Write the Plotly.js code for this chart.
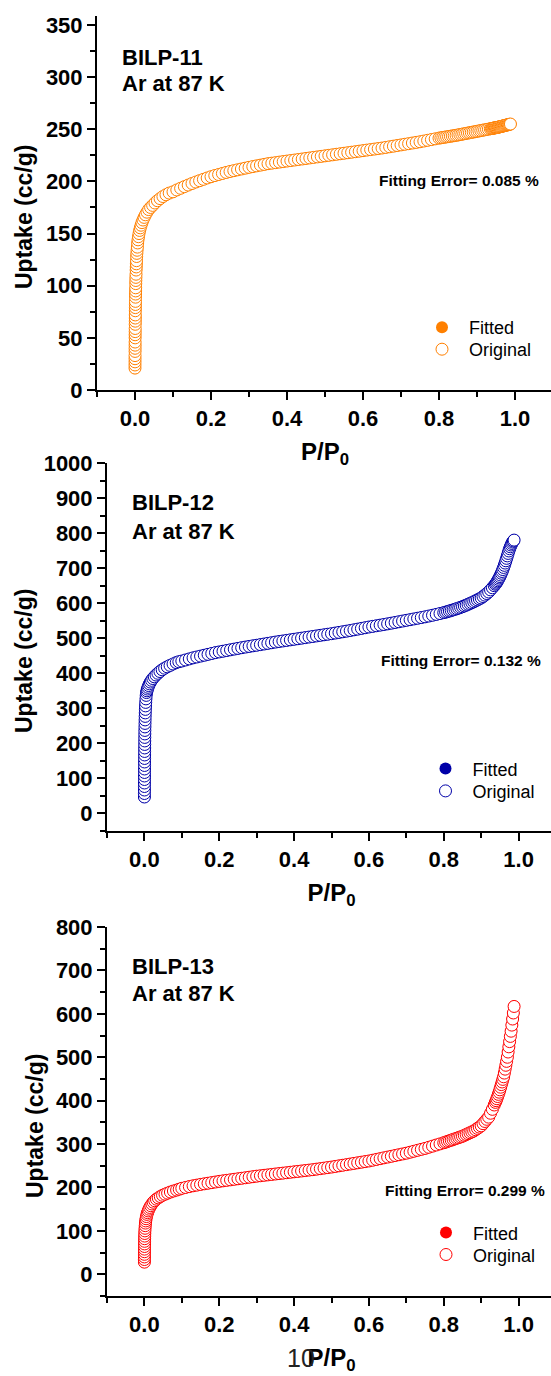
<!DOCTYPE html>
<html><head><meta charset="utf-8">
<script src="https://cdn.plot.ly/plotly-3.0.1.min.js"></script>
<style>html,body{margin:0;padding:0;overflow:hidden;background:#fff}#chart{width:560px;height:1376px}</style>
</head><body><div id="chart"></div>
<script>
// ---------- DATA ----------
const panelNames = ['BILP-11', 'BILP-12', 'BILP-13'];
const gasLabel = 'Ar at 87 K';
const fitErrors = ['0.085', '0.132', '0.299'];
const seriesNames = ['Fitted', 'Original'];
const colors = ['#FF8000', '#0000A8', '#FF0000'];

// low-pressure part (vertical rise + knee), per panel
const p1Low = [0.0000,0.0000,0.0001,0.0001,0.0001,0.0002,0.0002,0.0003,0.0003,0.0004,
  0.0004,0.0005,0.0005,0.0006,0.0007,0.0008,0.0008,0.0009,0.0010,0.0011,
  0.0012,0.0014,0.0015,0.0017,0.0018,0.0020,0.0022,0.0024,0.0027,0.0030,
  0.0033,0.0036,0.0040,0.0044,0.0049,0.0055,0.0062,0.0070,0.0080,0.0092,
  0.0106,0.0122,0.0140,0.0160,0.0183,0.0210,0.0240,0.0275,0.0315,0.0360,
  0.0410,0.0465,0.0525,0.0590,0.0660,0.0735,0.0815,0.0900];
const u1Low = [21,24,27,30,33,37,40,43,46,50,
  53,56,59,63,66,69,72,76,79,82,
  85,89,92,95,98,102,105,108,111,115,
  118,121,124,128,131,134,137,141,144,147,
  150,153,155.5,158,160.5,163,165.5,168,170.5,173,
  175,177,179.3,181.5,183.5,185.5,187.2,188.8];

const p2Low = [0.0000,0.0000,0.0001,0.0001,0.0001,0.0002,0.0002,0.0003,0.0003,0.0004,
  0.0004,0.0005,0.0006,0.0006,0.0007,0.0008,0.0009,0.0010,0.0011,0.0012,
  0.0014,0.0016,0.0018,0.0020,0.0023,0.0026,0.0030,0.0035,0.0041,0.0048,
  0.0057,0.0068,0.0081,0.0096,0.0114,0.0135,0.0160,0.0190,0.0225,0.0265,
  0.0310,0.0360,0.0415,0.0475,0.0540,0.0610,0.0685,0.0765,0.0850,0.0920];
const u2Low = [47,57,67,77,87,97,107,117,127,137,
  147,157,167,177,187,197,207,217,227,237,
  247,257,267,277,287,297,307,317,327,337,
  345,350,355,360,365,370,375,380,385,390,
  395,400,405,410,414.5,418.5,422.5,426.5,430.5,433];

const p3Low = [0.0000,0.0000,0.0001,0.0001,0.0002,0.0002,0.0003,0.0004,0.0005,0.0006,
  0.0008,0.0010,0.0013,0.0017,0.0022,0.0028,0.0035,0.0044,0.0055,0.0068,
  0.0083,0.0100,0.0120,0.0143,0.0170,0.0200,0.0235,0.0275,0.0320,0.0370,
  0.0425,0.0485,0.0550,0.0620,0.0695,0.0775,0.0860,0.0930];
const u3Low = [28,34,40,46,52,58,64,70,76,82,
  88,94,100,106,112,118,123,128,133,138,
  142,146,150,154,158,162,166,169.5,173,176,
  179,182,184.5,187,189.5,191.8,194,196];

// shared relative-pressure grid for the plateau part
const pHi = [0.10,0.11,0.12,0.13,0.14,0.15,0.16,0.17,0.18,0.19,
  0.20,0.21,0.22,0.23,0.24,0.25,0.26,0.27,0.28,0.29,
  0.30,0.31,0.32,0.33,0.34,0.35,0.36,0.37,0.38,0.39,
  0.40,0.41,0.42,0.43,0.44,0.45,0.46,0.47,0.48,0.49,
  0.50,0.51,0.52,0.53,0.54,0.55,0.56,0.57,0.58,0.59,
  0.60,0.61,0.62,0.63,0.64,0.65,0.66,0.67,0.68,0.69,
  0.70,0.71,0.72,0.73,0.74,0.75,0.76,0.77,0.78,0.79,
  0.80,0.805,0.81,0.815,0.82,0.825,0.83,0.835,0.84,0.845,
  0.85,0.855,0.86,0.865,0.87,0.875,0.88,0.885,0.89,0.895,
  0.90,0.905,0.91,0.915,0.92,0.925,0.93,0.935];
const u1Hi = [190.0,191.8,193.4,195.0,196.5,198.0,199.4,200.7,202.0,203.3,
  204.5,205.6,206.6,207.6,208.6,209.5,210.3,211.1,211.9,212.7,
  213.5,214.2,214.9,215.6,216.3,217.0,217.5,218.0,218.5,219.0,
  219.5,220.0,220.5,221.0,221.5,222.0,222.5,223.0,223.5,224.0,
  224.5,225.0,225.5,226.0,226.5,227.0,227.5,228.0,228.5,229.0,
  229.5,230.0,230.5,231.0,231.5,232.0,232.6,233.2,233.8,234.4,
  235.0,235.6,236.2,236.8,237.4,238.0,238.7,239.4,240.1,240.8,
  241.5,241.8,242.1,242.4,242.7,243.0,243.3,243.6,243.9,244.2,
  244.5,244.9,245.2,245.6,245.9,246.3,246.6,247.0,247.3,247.7,
  248.0,248.4,248.7,249.1,249.4,249.8,250.1,250.5];
const u2Hi = [435,438,441,444,446.5,449,451.5,454,456.5,459,
  461,463,465,467,469,471,473,474.8,476.6,478.3,
  480,481.8,483.6,485.4,487.2,489,490.6,492.2,493.8,495.4,
  497,498.6,500.2,501.8,503.4,505,506.6,508.2,509.8,511.4,
  513,514.8,516.6,518.4,520.2,522,524,526,528,530,
  532,533.8,535.6,537.4,539.2,541,543,545,547,549,
  551,553,555,557,559,561,563.3,565.6,568,570.5,
  573,574.5,576,577.6,579.2,580.9,582.6,584.4,586.2,588.1,
  590,592.2,594.5,596.8,599.2,601.6,604,606.7,609.4,612.2,
  615,619,623,627.5,632,638,644,650];
const u3Hi = [198,200,202,203.8,205.4,207,208.4,209.8,211.2,212.6,
  214,215.2,216.4,217.6,218.8,220,221.2,222.4,223.6,224.8,
  226,227,228,229,230,231,232,233,234,235,
  236,237,238,239,240,241,242.2,243.4,244.6,245.8,
  247,248.4,249.8,251.2,252.6,254,255.4,256.8,258.2,259.6,
  261,262.8,264.6,266.4,268.2,270,271.8,273.6,275.4,277.2,
  279,281.2,283.4,285.6,287.8,290,292.6,295.2,297.8,300.4,
  303,304.5,306,307.5,309,310.5,312,313.5,315,316.5,
  318,320,322,324,326,328,330,333,336,339,
  342,347,352,357,362,371,380,390];

// shared grid for the steep high-pressure tail
const pTail = [0.938,0.940,0.942,0.944,0.946,0.948,0.950,0.952,0.954,0.956,
  0.958,0.960,0.962,0.964,0.966,0.968,0.970,0.972,0.974,0.976,
  0.978,0.980,0.982,0.984,0.986,0.988];
const u1Tail = [250.7,250.8,251.0,251.1,251.3,251.4,251.5,251.7,251.8,252.0,
  252.2,252.4,252.5,252.7,252.9,253.1,253.3,253.5,253.7,253.9,
  254.0,254.2,254.4,254.6,254.8,255.0];
const u2Tail = [654,657,660.5,664,668,672,676,680.5,685.5,690.5,
  696,702,708,714.5,721,728,735,742,749,755.5,
  761,766,770.5,774.5,777.5,780];
const u3Tail = [396,400,404.5,409.5,414.5,419.5,425,431,437,443,
  449,455,463.5,472.5,481.5,490.5,500,512,524,536,
  548,560,574,588,602,617];

const xTickVals = [0.0, 0.2, 0.4, 0.6, 0.8, 1.0];
const yRanges = [[0, 358.6], [-50, 1000], [-50, 800]];
const yDticks = [50, 100, 100];

// ---------- BUILD ----------
const W = 560, H = 1376;
const fx = v => v / W;
const fy = v => 1 - v / H;
const FONT = 'Liberation Sans, Arial, Helvetica, sans-serif';

const P = [p1Low.concat(pHi, pTail), p2Low.concat(pHi, pTail), p3Low.concat(pHi, pTail)];
const U = [u1Low.concat(u1Hi, u1Tail), u2Low.concat(u2Hi, u2Tail), u3Low.concat(u3Hi, u3Tail)];

// pixel frames of the three plot boxes [left, right, top, bottom]
const boxes = [[97, 553, 16, 390], [107, 556, 463, 831], [107, 556, 927, 1296]];
// legend boxes: [left, top of "Fitted", top of "Original"]
const legendPos = [[415, 309, 331], [418.5, 750.3, 772.7], [419, 1214.3, 1236.3]];
const labelPos = [[120, 57, 83], [130, 503, 531.7], [130, 966.7, 993.3]];
const errPos = [[377, 180], [379, 660], [383, 1190]];
const yTitlePos = [[24, 217], [24, 661], [35, 1126]];

const traces = [];
const layout = {
  width: W, height: H,
  margin: {l: 0, r: 0, t: 0, b: 0},
  paper_bgcolor: '#fff', plot_bgcolor: '#fff',
  hovermode: false,
  showlegend: true,
  font: {family: FONT, color: '#000'},
  annotations: []
};

const legId = n => (n === 1 ? 'legend' : 'legend' + n);

for (let i = 0; i < 3; i++) {
  const k = i === 0 ? '' : String(i + 1);
  const xa = 'x' + k, ya = 'y' + k;
  const legF = legId(2 * i + 1), legO = legId(2 * i + 2);
  const b = boxes[i];
  traces.push({
    type: 'scatter', mode: 'markers', name: seriesNames[0], showlegend: true,
    x: P[i], y: U[i], xaxis: xa, yaxis: ya, legend: legF,
    marker: {symbol: 'circle', size: 12, color: colors[i], line: {width: 0}}
  });
  traces.push({
    type: 'scatter', mode: 'markers', name: seriesNames[1], showlegend: true,
    x: P[i], y: U[i], xaxis: xa, yaxis: ya, legend: legO,
    marker: {symbol: 'circle', size: 12, color: '#ffffff', line: {width: 1, color: colors[i]}}
  });

  layout['xaxis' + k] = {
    domain: [fx(b[0]), fx(b[1])], anchor: ya, range: [-0.1, 1.1],
    showline: true, linewidth: 2, linecolor: '#000', mirror: false,
    showgrid: false, zeroline: false,
    ticks: 'outside', ticklen: 8, tickwidth: 2, tickcolor: '#000',
    tickvals: xTickVals, tickformat: '.1f',
    minor: {dtick: 0.1, tick0: 0, ticks: 'outside', ticklen: 5, tickwidth: 2, tickcolor: '#000', showgrid: false},
    tickfont: {family: FONT, size: 22, weight: 'bold', color: '#000'},
    title: {text: 'P/P<sub>0</sub>', standoff: 13, font: {family: FONT, size: 24, weight: 'bold', color: '#000'}}
  };
  layout['xaxis' + (i + 4)] = {
    overlaying: xa, anchor: ya, side: 'top', range: [-0.1, 1.1],
    showline: true, linewidth: 2, linecolor: '#000',
    showgrid: false, zeroline: false, showticklabels: false,
    ticks: 'inside', ticklen: 5, tickwidth: 1.5, tickcolor: '#000',
    dtick: 0.1, tick0: 0
  };
  layout['yaxis' + k] = {
    domain: [fy(b[3]), fy(b[2])], anchor: xa, range: yRanges[i],
    showline: true, linewidth: 2, linecolor: '#000', mirror: false,
    showgrid: false, zeroline: false,
    ticks: 'outside', ticklen: 8, tickwidth: 2, tickcolor: '#000',
    dtick: yDticks[i], tick0: 0,
    minor: {dtick: yDticks[i] / 2, tick0: 0, ticks: 'outside', ticklen: 5, tickwidth: 2, tickcolor: '#000', showgrid: false},
    tickfont: {family: FONT, size: 22, weight: 'bold', color: '#000'}
  };
  const lg = legendPos[i];
  [[legF, lg[1]], [legO, lg[2]]].forEach(([id, top]) => {
    layout[id] = {
      visible: true,
      x: fx(lg[0]), y: fy(top), xanchor: 'left', yanchor: 'top',
      xref: 'paper', yref: 'paper',
      bgcolor: 'rgba(0,0,0,0)', borderwidth: 0, itemwidth: 44,
      font: {family: FONT, size: 18, color: '#000'}
    };
  });

  const lp = labelPos[i];
  layout.annotations.push(
    {xref: 'paper', yref: 'paper', x: fx(lp[0]), y: fy(lp[1]), xanchor: 'left', yanchor: 'middle',
     text: panelNames[i], showarrow: false, font: {family: FONT, size: 22, weight: 'bold', color: '#000'}},
    {xref: 'paper', yref: 'paper', x: fx(lp[0]), y: fy(lp[2]), xanchor: 'left', yanchor: 'middle',
     text: gasLabel, showarrow: false, font: {family: FONT, size: 22, weight: 'bold', color: '#000'}},
    {xref: 'paper', yref: 'paper', x: fx(errPos[i][0]), y: fy(errPos[i][1]), xanchor: 'left', yanchor: 'middle',
     text: 'Fitting Error= ' + fitErrors[i] + ' %', showarrow: false,
     font: {family: FONT, size: 15.5, weight: 'bold', color: '#000'}},
    {xref: 'paper', yref: 'paper', x: fx(yTitlePos[i][0]), y: fy(yTitlePos[i][1]), xanchor: 'center', yanchor: 'middle',
     text: 'Uptake (cc/g)', textangle: -90, showarrow: false,
     font: {family: FONT, size: 23, weight: 'bold', color: '#000'}}
  );
}
// stray page number at the bottom
layout.annotations.push({xref: 'paper', yref: 'paper', x: fx(301), y: fy(1358), xanchor: 'center', yanchor: 'middle',
  text: '10', showarrow: false, font: {family: FONT, size: 25, color: '#222'}});

Plotly.newPlot('chart', traces, layout, {staticPlot: true, displayModeBar: false, responsive: false});
</script></body></html>
